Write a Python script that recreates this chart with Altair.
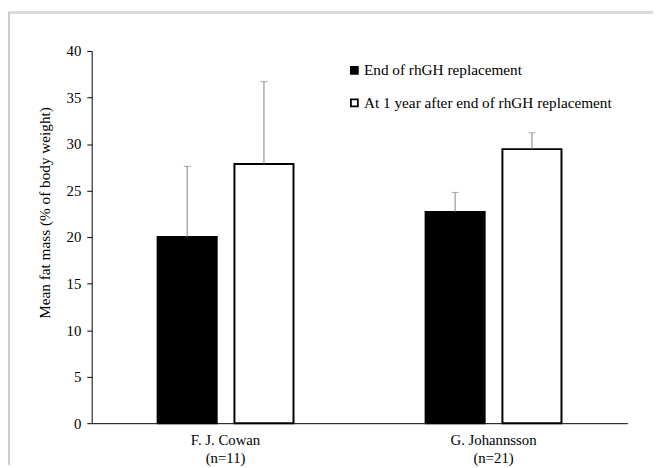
import altair as alt
import pandas as pd

studies = ["F. J. Cowan|(n=11)", "F. J. Cowan|(n=11)", "G. Johannsson|(n=21)", "G. Johannsson|(n=21)"]
series = ["End of rhGH replacement", "At 1 year after end of rhGH replacement",
          "End of rhGH replacement", "At 1 year after end of rhGH replacement"]
means = [20.0, 27.85, 22.7, 29.45]
errors = [7.6, 8.85, 2.1, 1.75]

df = pd.DataFrame({"study": studies, "series": series, "mean": means, "err": errors})
df["top"] = df["mean"] + df["err"]

series_order = ["End of rhGH replacement", "At 1 year after end of rhGH replacement"]
FONT = "Liberation Serif"

x = alt.X("study:N", sort=None, title=None,
          scale=alt.Scale(paddingInner=0.493, paddingOuter=0.246),
          axis=alt.Axis(labelExpr="split(datum.label, '|')", labelAngle=0, ticks=False,
                        domainColor="black", labelFont=FONT, labelFontSize=15,
                        labelColor="black", labelPadding=10, labelLineHeight=18))
xo = alt.XOffset("series:N", sort=series_order,
                 scale=alt.Scale(paddingInner=0.231, paddingOuter=0))

base = alt.Chart(df).encode(x=x, xOffset=xo)

bars = base.mark_bar(stroke="black", strokeWidth=2).encode(
    y=alt.Y("mean:Q", title="Mean fat mass (% of body weight)",
            scale=alt.Scale(domain=[0, 40]),
            axis=alt.Axis(values=list(range(0, 41, 5)), grid=False, domainColor="black",
                          tickColor="black", tickSize=5, labelFont=FONT, labelFontSize=15,
                          labelColor="black", labelPadding=6, titleFont=FONT,
                          titleFontSize=15.5, titleFontWeight="normal", titleColor="black",
                          titleX=-48, titleY=164, titleBaseline="middle")),
    fill=alt.Fill("series:N", sort=series_order,
                  scale=alt.Scale(domain=series_order, range=["black", "white"]),
                  legend=alt.Legend(title=None, orient="none", legendX=259, legendY=12,
                                    symbolType="square", symbolSize=50,
                                    symbolStrokeColor="black", symbolStrokeWidth=1.8,
                                    labelFont=FONT, labelFontSize=15.5, labelColor="black",
                                    labelLimit=0, rowPadding=16, labelOffset=2)),
)

rules = base.mark_rule(color="#808080", strokeWidth=1).encode(
    y="mean:Q", y2="top:Q")
caps = base.mark_tick(color="#808080", thickness=1, size=7).encode(y="top:Q")

# light grey frame around the figure (top and left edges visible)
frame_top = alt.Chart(df).mark_rule(color="#d9d9d9", strokeWidth=2).encode(
    x=alt.value(-85), x2=alt.value(570), y=alt.value(-39))
frame_left = alt.Chart(df).mark_rule(color="#cccccc", strokeWidth=2).encode(
    x=alt.value(-84), y=alt.value(-39), y2=alt.value(420))

chart = (frame_top + frame_left + bars + rules + caps).properties(
    width=544, height=378,
    padding={"left": 85, "top": 40, "right": 26, "bottom": 50},
    autosize=alt.AutoSizeParams(type="none"),
).configure_view(stroke=None)

chart.save("out.html", embed_options={"renderer": "svg", "actions": False})
